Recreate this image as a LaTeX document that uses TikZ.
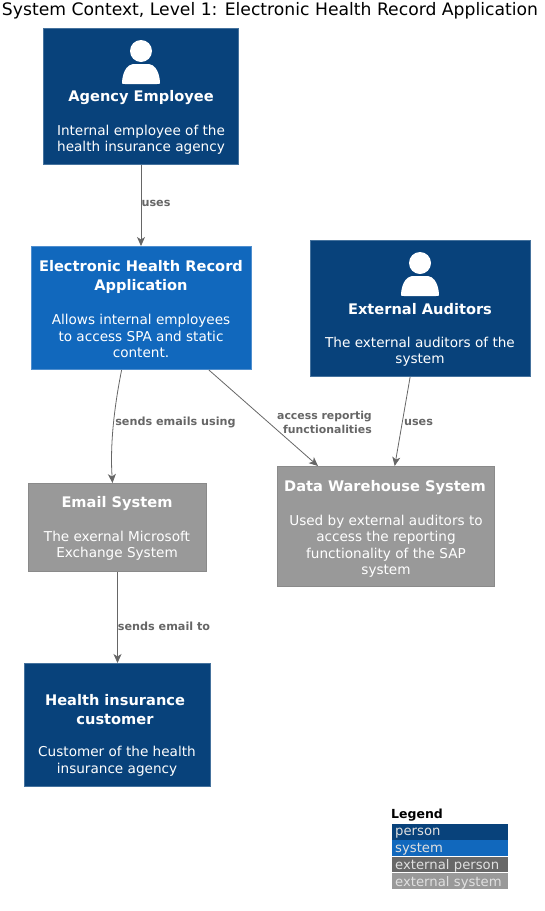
\documentclass[tikz,border=0pt]{standalone}
\usepackage{fontspec}
\setmainfont{DejaVu Sans}
\usetikzlibrary{calc,arrows.meta}
\definecolor{personc}{HTML}{08427B}
\definecolor{personb}{HTML}{5F86AC}
\definecolor{sysc}{HTML}{1168BD}
\definecolor{sysb}{HTML}{6A9FD6}
\definecolor{extc}{HTML}{999999}
\definecolor{extb}{HTML}{8A8A8A}
\definecolor{extp}{HTML}{686868}
\definecolor{linec}{HTML}{666666}
\newcommand{\personicon}[2]{%
  \fill[white] (#1,#2-13) circle[radius=11];
  \fill[white] (#1-19,#2+19) .. controls (#1-19,#2+19) and (#1-19,#2+2) .. (#1-8,#2)
     -- (#1+8,#2) .. controls (#1+19,#2+2) and (#1+19,#2+19) .. (#1+19,#2+19)
     .. controls (#1+19,#2+20) and (#1+18,#2+20) .. (#1+16,#2+20) -- (#1-16,#2+20)
     .. controls (#1-18,#2+20) and (#1-19,#2+20) .. cycle;}
\tikzset{
  x=1pt,y=-1pt,
  boxbase/.style={rectangle,inner sep=0pt,line width=0.8pt},
  personbox/.style={boxbase,draw=personb!70!personc,fill=personc},
  sysbox/.style={boxbase,draw=sysb!70!sysc,fill=sysc},
  extbox/.style={boxbase,draw=extb,fill=extc},
  titletext/.style={text=white,font=\fontsize{14.6}{19}\selectfont\bfseries,align=center,inner sep=0pt},
  desctext/.style={text=white,font=\fontsize{13.6}{16.5}\selectfont,align=center,inner sep=0pt},
  rel/.style={draw=linec,line width=0.8pt,-{Stealth[length=9pt,width=8pt,inset=2.5pt]}},
  rellabel/.style={text=linec,font=\fontsize{11.2}{13.5}\selectfont\bfseries,inner sep=0pt},
  legrow/.style={anchor=north west,minimum width=116pt,inner sep=0pt,text=white!88!black,text depth=0pt,font=\fontsize{13.2}{14}\selectfont,align=left,text width=114pt}
}
\begin{document}
\begin{tikzpicture}
\useasboundingbox (0,0) rectangle (544,911);
\node[anchor=center,inner sep=0pt,font=\fontsize{17.2}{18}\selectfont] (title) at (270,11) {System Context, Level 1: Electronic Health Record Application};

\node[personbox,minimum width=195.2pt,minimum height=136.2pt] (agency) at (141,96.5) {};
\personicon{141}{64}
\node[titletext] (agencyt) at (141,98) {Agency Employee};
\node[desctext] (agencyd) at (141,139.5) {Internal employee of the\\health insurance agency};

\node[sysbox,minimum width=220.2pt,minimum height=123.2pt] (ehr) at (141.5,308) {};
\node[titletext] (ehrt) at (141,277) {Electronic Health Record\\Application};
\node[desctext] (ehrd) at (141,336) {Allows internal employees\\to access SPA and static\\content.};

\node[personbox,minimum width=220.2pt,minimum height=136.2pt] (aud) at (420.5,308.5) {};
\personicon{420}{276}
\node[titletext] (audt) at (420,309) {External Auditors};
\node[desctext] (audd) at (420,351.5) {The external auditors of the\\system};

\node[extbox,minimum width=178.2pt,minimum height=88.2pt] (mail) at (117.5,527.5) {};
\node[titletext] (mailt) at (117,504) {Email System};
\node[desctext] (maild) at (117,545.5) {The exernal Microsoft\\Exchange System};

\node[extbox,minimum width=217.2pt,minimum height=120.2pt] (dw) at (386,526.5) {};
\node[titletext] (dwt) at (385,488) {Data Warehouse System};
\node[desctext] (dwd) at (386,546) {Used by external auditors to\\access the reporting\\functionality of the SAP\\system};

\node[personbox,minimum width=186.2pt,minimum height=123.2pt] (cust) at (117.5,725) {};
\node[titletext] (custt) at (115,709.5) {Health insurance\\customer};
\node[desctext] (custd) at (117,761) {Customer of the health\\insurance agency};

\draw[rel] (agency.south) -- (agency.south |- ehr.north);
\path (agency.south) ++(15,38) node[rellabel] (l1) {uses};
\draw[rel] ($(ehr.south west)!0.41!(ehr.south east)$) .. controls (114,408) and (110,445) .. ($(mail.north west)!0.472!(mail.north east)$);
\node[rellabel] (l2) at (175.5,422.5) {sends emails using};
\draw[rel] ($(ehr.south west)!0.805!(ehr.south east)$) -- ($(dw.north west)!0.188!(dw.north east)$);
\node[rellabel,align=right,anchor=east,font=\fontsize{10.9}{13.5}\selectfont\bfseries] (l3) at (372,422.5) {access reportig\\functionalities};
\draw[rel] ($(aud.south west)!0.453!(aud.south east)$) -- ($(dw.north west)!0.54!(dw.north east)$);
\node[rellabel] (l4) at (418.5,422.5) {uses};
\draw[rel] (mail.south) -- (mail.south |- cust.north);
\node[rellabel] (l5) at (164,626) {sends email to};

\node[anchor=west,inner sep=0pt,font=\fontsize{12.5}{14}\selectfont\bfseries] (legt) at (391,815.5) {Legend};
\node[legrow,fill=personc,minimum height=15.5pt] (lg1) at (392,824) {\hspace*{2pt}person};
\node[legrow,fill=sysc,minimum height=16pt] (lg2) at (392,840) {\hspace*{2pt}system};
\node[legrow,fill=extp,minimum height=15pt] (lg3) at (392,857) {\hspace*{2pt}external person};
\node[legrow,fill=extc,minimum height=16pt] (lg4) at (392,873) {\hspace*{2pt}external system};
\end{tikzpicture}
\end{document}
